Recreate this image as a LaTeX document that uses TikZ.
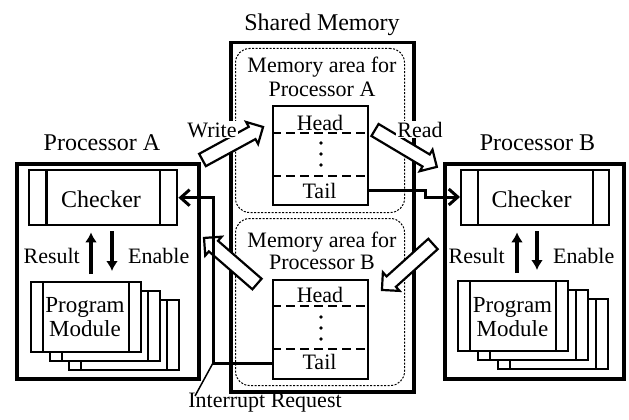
\documentclass[tikz,border=0pt]{standalone}
\usepackage{fontspec}
\setmainfont{Liberation Serif}
\usetikzlibrary{arrows.meta,calc}
\newcommand\blockarr[3]{%
  \begin{scope}[shift={#1}, rotate=#2, x=1pt, y=1pt]
    \pgfmathsetmacro\bal{#3}\pgfmathsetmacro\bab{#3-12.5}
    \draw[barrow] (0,7) -- (\bab,7) -- (\bab,12.5) -- (\bal,0) -- (\bab,-12.5) -- (\bab,-7) -- (0,-7) -- cycle;
  \end{scope}}
\begin{document}
\begin{tikzpicture}[x=1pt,y=-1pt,
  lbl/.style={font=\fontsize{22}{23}\selectfont, inner sep=0, anchor=base},
  big/.style={font=\fontsize{24}{26}\selectfont, inner sep=0, anchor=base},
  outerbox/.style={draw, line width=3.5pt, inner sep=0, anchor=north west},
  area/.style={draw, line width=1pt, dash pattern=on 2pt off 1.5pt, rounded corners=14pt, inner sep=0, anchor=north west},
  chkbox/.style={draw, line width=2.4pt, inner sep=0, anchor=north west, minimum width=148pt, minimum height=55pt},
  modbox/.style={draw, fill=white, line width=2pt, inner sep=0, anchor=north west, minimum width=110pt, minimum height=70pt},
  qbox/.style={draw, line width=2.4pt, inner sep=0, anchor=north west, minimum width=95pt, minimum height=99pt},
  qsep/.style={line width=2.2pt, dash pattern=on 9pt off 5pt},
  conn/.style={line width=3pt, -{Straight Barb[length=9pt,width=16pt,line width=3pt]}},
  ra/.style={line width=3.2pt, -{Latex[length=10pt,width=12pt]}},
  barrow/.style={draw, fill=white, line width=2.2pt, line join=miter},
  thinl/.style={line width=2pt},
]
\useasboundingbox (0,0) rectangle (629,420);

% ---------- Shared memory ----------
\node[big] (tsm) at (322,31) {Shared Memory};
\node[outerbox, minimum width=183pt, minimum height=349pt] (sm) at (229,41) {};
\node[area, minimum width=169pt, minimum height=164pt] (areaA) at (235,48) {};
\node[area, minimum width=169pt, minimum height=167pt] (areaB) at (235,218) {};

\node[lbl] (aA1) at (322,73) {Memory area for};
\node[lbl] (aA2) at (322,96) {Processor A};
\node[lbl] (aB1) at (322,247) {Memory area for};
\node[lbl] (aB2) at (322,269.5) {Processor B};

\node[qbox] (qa) at (272,105) {};
\draw[qsep] ([yshift=-28pt]qa.north west) -- ([yshift=-28pt]qa.north east);
\draw[qsep] ([yshift=-71pt]qa.north west) -- ([yshift=-71pt]qa.north east);
\node[lbl] (ha) at (320,130) {Head};
\node[lbl] (ta) at (319.5,198) {Tail};
\foreach \yy in {143,154,165} \fill (321,\yy) circle[radius=1.8pt];

\node[qbox] (qb) at (272,279) {};
\draw[qsep] ([yshift=-27pt]qb.north west) -- ([yshift=-27pt]qb.north east);
\draw[qsep] ([yshift=-70pt]qb.north west) -- ([yshift=-70pt]qb.north east);
\node[lbl] (hb) at (320,302) {Head};
\node[lbl] (tb) at (319.5,369) {Tail};
\foreach \yy in {317,328,339} \fill (321,\yy) circle[radius=1.8pt];

% ---------- Processor A ----------
\node[big] (tpa) at (102,150) {Processor A};
\node[outerbox, minimum width=182pt, minimum height=215pt] (pa) at (15,162) {};
\node[chkbox] (ca) at (28,169) {};
\draw[line width=2.4pt] ([xshift=18.5pt]ca.north west) -- ([xshift=18.5pt]ca.south west);
\draw[line width=2.4pt] ([xshift=-18.5pt]ca.north east) -- ([xshift=-18.5pt]ca.south east);
\node[big] (cat) at (101,207) {Checker};
\foreach \dx/\dy/\n in {38/18/3, 19/9/2, 0/0/1} {
  \node[modbox] (ma\n) at (30+\dx,281+\dy) {};
  \draw[thinl] ([xshift=13pt]ma\n.north west) -- ([xshift=13pt]ma\n.south west);
  \draw[thinl] ([xshift=-13pt]ma\n.north east) -- ([xshift=-13pt]ma\n.south east);
}
\node[lbl, font=\fontsize{23}{24}\selectfont] (pma1) at (85,312) {Program};
\node[lbl, font=\fontsize{23}{24}\selectfont] (pma2) at (85,336) {Module};
\node[lbl, anchor=base east] (resa) at (80,263) {Result};
\node[lbl, anchor=base west] (ena) at (128,263) {Enable};
\coordinate (xa1) at (91,0);
\coordinate (xa2) at (112,0);
\draw[ra, shorten <=7pt, shorten >=6pt] (ma1.north -| xa1) -- (ca.south -| xa1);
\draw[ra, shorten <=5pt, shorten >=10pt] (ca.south -| xa2) -- (ma1.north -| xa2);

% ---------- Processor B ----------
\node[big] (tpb) at (537.5,150) {Processor B};
\node[outerbox, minimum width=179pt, minimum height=215pt] (pb) at (443,162) {};
\node[chkbox] (cb) at (460,169) {};
\draw[line width=2.4pt] ([xshift=18pt]cb.north west) -- ([xshift=18pt]cb.south west);
\draw[line width=2.4pt] ([xshift=-17.5pt]cb.north east) -- ([xshift=-17.5pt]cb.south east);
\node[big] (cbt) at (531.5,207) {Checker};
\foreach \dx/\dy/\n in {40/18/3, 20/9/2, 0/0/1} {
  \node[modbox] (mb\n) at (457+\dx,280+\dy) {};
  \draw[thinl] ([xshift=13pt]mb\n.north west) -- ([xshift=13pt]mb\n.south west);
  \draw[thinl] ([xshift=-13pt]mb\n.north east) -- ([xshift=-13pt]mb\n.south east);
}
\node[lbl, font=\fontsize{23}{24}\selectfont] (pmb1) at (512.5,312) {Program};
\node[lbl, font=\fontsize{23}{24}\selectfont] (pmb2) at (512.5,336) {Module};
\node[lbl, anchor=base east] (resb) at (505,263) {Result};
\node[lbl, anchor=base west] (enb) at (553,263) {Enable};
\coordinate (xb1) at (517,0);
\coordinate (xb2) at (537,0);
\draw[ra, shorten <=7pt, shorten >=6pt] (mb1.north -| xb1) -- (cb.south -| xb1);
\draw[ra, shorten <=5pt, shorten >=10pt] (cb.south -| xb2) -- (mb1.north -| xb2);

% ---------- block arrows ----------
\blockarr{(202.5,160)}{28.6}{69}
\blockarr{(375,130)}{-30.8}{72}
\blockarr{(257,284)}{139}{70.2}
\blockarr{(433,244)}{222}{68.7}
\node[lbl, fill=white, inner sep=1pt] (wr) at (212,137) {Write};
\node[lbl, fill=white, inner sep=1pt] (rd) at (420,137) {Read};

% ---------- connectors ----------
\coordinate (j1) at (425,190);
\coordinate (j2) at (425,197);
\draw[conn] (qa.east |- j1) -- (j1) -- (j2) -- (cb.west |- j2);
\coordinate (ir) at (213,363);
\draw[conn] (qb.west |- ir) -- (ir) -- (ir |- ca.east) -- (ca.east);
\coordinate (irl) at (195,396);
\draw[line width=1.5pt] (ir) -- (irl);
\node[lbl] (irq) at (265,407) {Interrupt Request};
\end{tikzpicture}
\end{document}
